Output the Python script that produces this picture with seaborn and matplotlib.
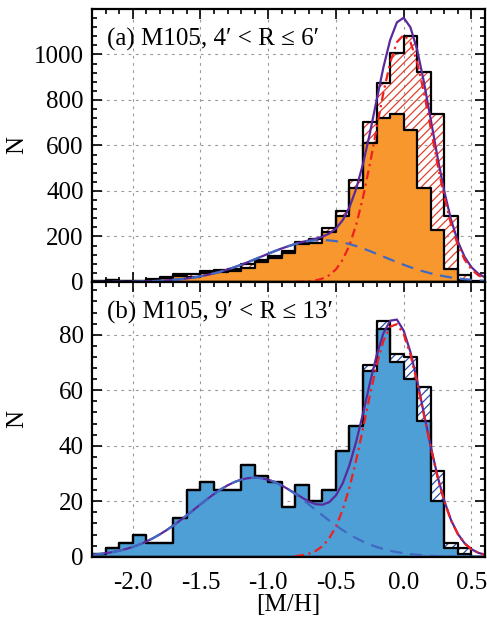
import numpy as np
import pandas as pd
import matplotlib
matplotlib.use("Agg")
import matplotlib.pyplot as plt
import seaborn as sns
from matplotlib.ticker import MultipleLocator, FormatStrFormatter

# ---------------- data ----------------
bin_edges = [-2.3, -2.2, -2.1, -2.0, -1.9, -1.8, -1.7, -1.6, -1.5, -1.4, -1.3, -1.2,
             -1.1, -1.0, -0.9, -0.8, -0.7, -0.6, -0.5, -0.4, -0.3, -0.2, -0.1, 0.0,
             0.1, 0.2, 0.3, 0.4, 0.5, 0.6]

# panel (a): M105, 4' < R <= 6'
total_a = [4, 9, 5, 6, 13, 20, 34, 33, 50, 53, 57, 80, 98, 114, 137, 177, 189, 239,
           311, 450, 703, 874, 1007, 1083, 925, 737, 289, 31, 4]
filled_a = [3, 7, 4, 5, 10, 17, 26, 24, 41, 46, 50, 63, 86, 104, 126, 165, 172, 220,
            289, 411, 611, 722, 740, 666, 413, 230, 56, 9, 1]

# panel (b): M105, 9' < R <= 13'
total_b = [1, 3, 5, 8, 5, 5, 14, 24, 27, 24, 24, 33, 29, 27, 18, 26, 20, 24, 38, 47,
           69, 85, 73, 72, 61, 31, 5, 3, 0]
filled_b = [1, 3, 5, 8, 5, 5, 14, 24, 27, 24, 24, 33, 29, 27, 18, 26, 20, 24, 38, 47,
            67, 82, 70, 64, 49, 20, 3, 1, 0]

# fitted model curves
curve_x = [-2.30, -2.25, -2.20, -2.15, -2.10, -2.05, -2.00, -1.95, -1.90, -1.85,
           -1.80, -1.75, -1.70, -1.65, -1.60, -1.55, -1.50, -1.45, -1.40, -1.35,
           -1.30, -1.25, -1.20, -1.15, -1.10, -1.05, -1.00, -0.95, -0.90, -0.85,
           -0.80, -0.75, -0.70, -0.65, -0.60, -0.55, -0.50, -0.45, -0.40, -0.35,
           -0.30, -0.25, -0.20, -0.15, -0.10, -0.05, 0.00, 0.05, 0.10, 0.15,
           0.20, 0.25, 0.30, 0.35, 0.40, 0.45, 0.50, 0.55, 0.60]
rich_x = [-0.80, -0.75, -0.70, -0.65, -0.60, -0.55, -0.50, -0.45, -0.40, -0.35,
          -0.30, -0.25, -0.20, -0.15, -0.10, -0.05, 0.00, 0.05, 0.10, 0.15,
          0.20, 0.25, 0.30, 0.35, 0.40, 0.45, 0.50, 0.55, 0.60]

poor_a = [0.15, 0.22, 0.33, 0.49, 0.71, 1.02, 1.45, 2.04, 2.84, 3.89, 5.26, 7.03,
          9.27, 12.1, 15.6, 19.8, 24.9, 30.9, 37.9, 45.9, 54.8, 64.8, 75.6, 87.2,
          99.3, 111.6, 124.0, 136.0, 147.3, 157.7, 166.7, 174.0, 179.5, 182.9,
          184.0, 182.9, 179.5, 174.0, 166.7, 157.7, 147.3, 136.0, 124.0, 111.6,
          99.3, 87.2, 75.6, 64.8, 54.8, 45.9, 37.9, 30.9, 24.9, 19.8, 15.6, 12.1,
          9.3, 7.0, 5.3]
rich_a = [0.5, 1.4, 3.2, 7.1, 15.0, 29.7, 55.5, 97.6, 161.8, 252.8, 372.3, 516.3,
          674.8, 830.9, 964.2, 1054.2, 1086.0, 1054.2, 964.2, 830.9, 674.8, 516.3,
          372.3, 252.8, 161.8, 97.6, 55.5, 29.7, 15.0]
sum_a = [0.15, 0.22, 0.33, 0.49, 0.71, 1.02, 1.45, 2.04, 2.84, 3.89, 5.26, 7.03,
         9.27, 12.1, 15.6, 19.8, 24.9, 30.9, 37.9, 45.9, 54.8, 64.8, 75.6, 87.2,
         99.3, 111.6, 124.0, 136.0, 147.3, 157.7, 167.2, 175.4, 182.7, 190.0,
         199.0, 212.6, 235.0, 271.6, 328.5, 410.5, 519.6, 652.3, 798.8, 942.5,
         1063.5, 1141.4, 1161.6, 1119.0, 1019.0, 876.8, 712.7, 547.2, 397.2,
         272.6, 177.4, 109.7, 64.8, 36.7, 20.3]

poor_b = [0.69, 0.94, 1.25, 1.65, 2.15, 2.77, 3.52, 4.41, 5.46, 6.67, 8.04, 9.57,
          11.25, 13.05, 14.94, 16.89, 18.85, 20.77, 22.59, 24.25, 25.70, 26.89,
          27.77, 28.32, 28.5, 28.32, 27.77, 26.89, 25.70, 24.25, 22.59, 20.77,
          18.85, 16.89, 14.94, 13.05, 11.25, 9.57, 8.04, 6.67, 5.46, 4.41, 3.52,
          2.77, 2.15, 1.65, 1.25, 0.94, 0.69, 0.50, 0.36, 0.26, 0.18, 0.13, 0.09,
          0.06, 0.04, 0.03, 0.02]
rich_b = [0.24, 0.53, 1.07, 2.07, 3.80, 6.60, 10.85, 16.91, 24.95, 34.9, 46.2, 58.0,
          69.0, 77.7, 82.9, 83.8, 80.2, 72.8, 62.6, 50.9, 39.3, 28.7, 19.9, 13.0,
          8.10, 4.77, 2.66, 1.40, 0.70]
sum_b = [0.69, 0.94, 1.25, 1.65, 2.15, 2.77, 3.52, 4.41, 5.46, 6.67, 8.04, 9.57,
         11.25, 13.05, 14.94, 16.89, 18.85, 20.77, 22.59, 24.25, 25.70, 26.89,
         27.77, 28.32, 28.5, 28.32, 27.77, 26.89, 25.70, 24.25, 22.83, 21.30,
         19.92, 18.96, 18.74, 19.65, 22.10, 26.48, 32.99, 41.57, 51.66, 62.41,
         72.52, 80.47, 85.05, 85.45, 81.45, 73.74, 63.29, 51.40, 39.66, 28.96,
         20.08, 13.13, 8.19, 4.83, 2.70, 1.43, 0.72]

panel_titles = ["(a) M105, 4\u2032 < R \u2264 6\u2032", "(b) M105, 9\u2032 < R \u2264 13\u2032"]
x_ticks = [-2.0, -1.5, -1.0, -0.5, 0.0, 0.5]
y_ticks_a = [0, 200, 400, 600, 800, 1000]
y_ticks_b = [0, 20, 40, 60, 80]

# ---------------- style ----------------
plt.rcParams['font.family'] = ['Liberation Serif', 'DejaVu Serif']
plt.rcParams['axes.unicode_minus'] = False
plt.rcParams['hatch.linewidth'] = 0.9

ORANGE = '#F7972E'
LBLUE = '#4E9FD6'
RED_HATCH = '#E0402E'
BLUE_HATCH = '#2A4FA6'
PURPLE = '#5A2A9C'
DBLUE = '#4169C1'
RED = '#EE2020'

fig = plt.figure(figsize=(4.87, 6.24), dpi=100)
ax_a = fig.add_axes([0.1889, 0.5481, 0.807, 0.4375])
ax_b = fig.add_axes([0.1889, 0.1078, 0.807, 0.4403])

centers = [(bin_edges[i] + bin_edges[i + 1]) / 2 for i in range(len(bin_edges) - 1)]


def draw_panel(ax, total, filled, fill_color, hatch_color, poor, rich, summ,
               ymax, yticks, yminor, title, show_xlabels):
    ax.set_axisbelow(True)
    ax.grid(True, which='major', color='#9a9a9a', linestyle=(0, (2.5, 4)), linewidth=0.8)
    # hatched total
    sns.histplot(x=centers, weights=total, bins=bin_edges, element='step', fill=True,
                 color=hatch_color, facecolor='none', edgecolor=hatch_color,
                 hatch='////', linewidth=0, ax=ax, zorder=1)
    # filled component
    sns.histplot(x=centers, weights=filled, bins=bin_edges, element='step', fill=True,
                 color=fill_color, facecolor=fill_color, edgecolor='black',
                 linewidth=1.6, alpha=1, ax=ax, zorder=2)
    # total outline
    sns.histplot(x=centers, weights=total, bins=bin_edges, element='step', fill=True,
                 color='black', facecolor='none', edgecolor='black', linewidth=1.6,
                 ax=ax, zorder=3)
    sns.lineplot(x=curve_x, y=summ, ax=ax, color=PURPLE, linewidth=1.6,
                 estimator=None, zorder=4)
    sns.lineplot(x=curve_x, y=poor, ax=ax, color=DBLUE, linewidth=1.6,
                 linestyle=(0, (5.5, 3.5)), estimator=None, zorder=5)
    sns.lineplot(x=rich_x, y=rich, ax=ax, color=RED, linewidth=1.6,
                 linestyle=(0, (4, 2, 1, 2)), estimator=None, zorder=6)

    ax.set_xlim(-2.3, 0.6)
    ax.set_ylim(0, ymax)
    ax.set_xticks(x_ticks)
    ax.xaxis.set_minor_locator(MultipleLocator(0.1))
    ax.set_yticks(yticks)
    ax.yaxis.set_minor_locator(MultipleLocator(yminor))
    ax.xaxis.set_major_formatter(FormatStrFormatter('%.1f'))
    ax.tick_params(which='both', direction='in', top=True, right=True,
                   labelsize=18, width=1.2, colors='black')
    ax.tick_params(which='major', length=7)
    ax.tick_params(which='minor', length=3.5)
    ax.tick_params(axis='y', pad=6)
    ax.tick_params(axis='x', pad=11)
    if not show_xlabels:
        ax.tick_params(axis='x', labelbottom=False)
    for sp in ax.spines.values():
        sp.set_linewidth(1.6)
        sp.set_zorder(10)
    ax.set_ylabel('N', fontsize=18)
    ax.yaxis.set_label_coords(-0.163, 0.5)
    ax.set_xlabel('')
    ax.text(0.038, 0.89, title, transform=ax.transAxes, fontsize=18,
            ha='left', va='center', zorder=12)


draw_panel(ax_a, total_a, filled_a, ORANGE, RED_HATCH, poor_a, rich_a, sum_a,
           1200, y_ticks_a, 40, panel_titles[0], False)
draw_panel(ax_b, total_b, filled_b, LBLUE, BLUE_HATCH, poor_b, rich_b, sum_b,
           99, y_ticks_b, 4, panel_titles[1], True)
ax_b.set_xlabel('[M/H]', fontsize=18)
ax_b.xaxis.set_label_coords(0.5, -0.135)

fig.savefig('out.png', dpi=100)
